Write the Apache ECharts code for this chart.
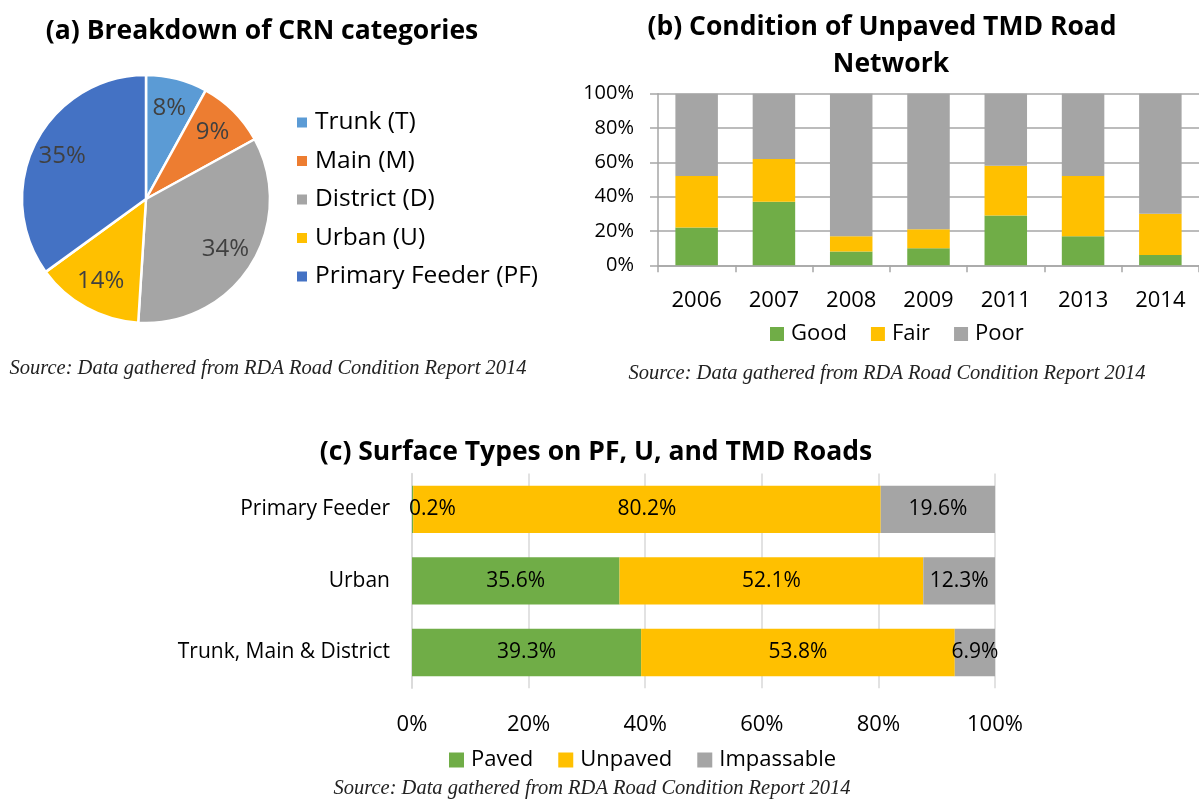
<!DOCTYPE html>
<html>
<head>
<meta charset="utf-8">
<script src="https://cdn.jsdelivr.net/npm/echarts@6/dist/echarts.min.js"></script>
<style>
html,body{margin:0;padding:0;background:#fff;}
#chart{width:1199px;height:801px;}
</style>
</head>
<body>
<div id="chart"></div>
<script>
// ---- Data ----
const pieNames = ['Trunk (T)', 'Main (M)', 'District (D)', 'Urban (U)', 'Primary Feeder (PF)'];
const pieValues = [8, 9, 34, 14, 35];

const years = ['2006', '2007', '2008', '2009', '2011', '2013', '2014'];
const goodVals = [22, 37, 8, 10, 29, 17, 6];
const fairVals = [30, 25, 9, 11, 29, 35, 24];
const poorVals = [48, 38, 83, 79, 42, 48, 70];

const roadCats = ['Primary Feeder', 'Urban', 'Trunk, Main & District'];
const pavedVals = [0.2, 35.6, 39.3];
const unpavedVals = [80.2, 52.1, 53.8];
const impassVals = [19.6, 12.3, 6.9];

const pctTicks = [0, 20, 40, 60, 80, 100];

// ---- Styles ----
const pieColors = ['#5B9BD5', '#ED7D31', '#A5A5A5', '#FFC000', '#4472C4'];
const cGreen = '#70AD47', cYellow = '#FFC000', cGray = '#A5A5A5';
const FONT = '"Open Sans", "Noto Sans", sans-serif';
const SERIF = '"Liberation Serif", "DejaVu Serif", serif';
const SRC = 'Source: Data gathered from RDA Road Condition Report 2014';

const chart = echarts.init(document.getElementById('chart'), null, {renderer: 'canvas'});

function pctLabel(v) { return v + '%'; }

const option = {
  animation: false,
  backgroundColor: '#fff',
  textStyle: {fontFamily: FONT},
  graphic: [
    {type: 'text', x: 262, y: 31, style: {text: '(a) Breakdown of CRN categories', font: 'bold 26.5px ' + FONT, fill: '#000', textAlign: 'center', textVerticalAlign: 'middle'}},
    {type: 'text', x: 882, y: 27, style: {text: '(b) Condition of Unpaved TMD Road', font: 'bold 26.5px ' + FONT, fill: '#000', textAlign: 'center', textVerticalAlign: 'middle'}},
    {type: 'text', x: 891, y: 64, style: {text: 'Network', font: 'bold 26.5px ' + FONT, fill: '#000', textAlign: 'center', textVerticalAlign: 'middle'}},
    {type: 'text', x: 596, y: 452, style: {text: '(c) Surface Types on PF, U, and TMD Roads', font: 'bold 26.5px ' + FONT, fill: '#000', textAlign: 'center', textVerticalAlign: 'middle'}},
    {type: 'text', x: 268, y: 369, style: {text: SRC, font: 'italic 20.5px ' + SERIF, fill: '#222', textAlign: 'center', textVerticalAlign: 'middle'}},
    {type: 'text', x: 887, y: 374, style: {text: SRC, font: 'italic 20.5px ' + SERIF, fill: '#222', textAlign: 'center', textVerticalAlign: 'middle'}},
    {type: 'text', x: 592, y: 789, style: {text: SRC, font: 'italic 20.5px ' + SERIF, fill: '#222', textAlign: 'center', textVerticalAlign: 'middle'}}
  ],
  legend: [
    {
      data: pieNames, orient: 'vertical', left: 290, top: 105,
      itemWidth: 12, itemHeight: 12, itemGap: 13.5, icon: 'rect',
      textStyle: {fontSize: 24.5, color: '#000', fontFamily: FONT, padding: [0, 0, 0, 2]}
    },
    {
      data: ['Good', 'Fair', 'Poor'], orient: 'horizontal', left: 765, top: 318,
      itemWidth: 14, itemHeight: 14, itemGap: 24, icon: 'rect',
      textStyle: {fontSize: 22, color: '#000', fontFamily: FONT, padding: [0, 0, 0, 2]}
    },
    {
      data: ['Paved', 'Unpaved', 'Impassable'], orient: 'horizontal', left: 444, top: 744,
      itemWidth: 15, itemHeight: 15, itemGap: 25, icon: 'rect',
      textStyle: {fontSize: 22, color: '#000', fontFamily: FONT, padding: [0, 0, 0, 2]}
    }
  ],
  grid: [
    {left: 658, right: -7, top: 93.7, bottom: 801 - 265.3, containLabel: false},
    {left: 412, right: 1199 - 995, top: 473.5, bottom: 801 - 688.3, containLabel: false}
  ],
  xAxis: [
    {
      gridIndex: 0, type: 'category', data: years,
      axisLine: {show: true, lineStyle: {color: '#A6A6A6', width: 1.5}},
      axisTick: {show: true, length: 7, lineStyle: {color: '#A6A6A6', width: 1.5}},
      axisLabel: {fontSize: 22, color: '#000', margin: 24, fontFamily: FONT},
      splitLine: {show: false}
    },
    {
      gridIndex: 1, type: 'value', min: 0, max: 100, interval: 20,
      axisLine: {show: false}, axisTick: {show: false},
      axisLabel: {fontSize: 22, color: '#000', margin: 25, fontFamily: FONT, formatter: '{value}%'},
      splitLine: {show: true, lineStyle: {color: '#D9D9D9', width: 1.5}}
    }
  ],
  yAxis: [
    {
      gridIndex: 0, type: 'value', min: 0, max: 100, interval: 20,
      axisLine: {show: true, lineStyle: {color: '#A6A6A6', width: 1.5}},
      axisTick: {show: true, length: 8, lineStyle: {color: '#A6A6A6', width: 1.5}},
      axisLabel: {fontSize: 20, color: '#000', margin: 24, fontFamily: FONT, formatter: '{value}%'},
      splitLine: {show: true, lineStyle: {color: '#A6A6A6', width: 1.5}}
    },
    {
      gridIndex: 1, type: 'category', data: roadCats, inverse: true,
      axisLine: {show: true, lineStyle: {color: '#D9D9D9', width: 1.5}},
      axisTick: {show: false},
      axisLabel: {fontSize: 21, color: '#000', margin: 22, fontFamily: FONT}
    }
  ],
  series: [
    {
      name: 'CRN', type: 'pie', center: [146, 199], radius: 124,
      startAngle: 90, clockwise: true, silent: true,
      data: pieNames.map((n, i) => ({name: n, value: pieValues[i], itemStyle: {color: pieColors[i]}})),
      itemStyle: {borderColor: '#fff', borderWidth: 2.5},
      label: {show: false}, labelLine: {show: false}
    },
    {
      name: 'CRN labels', type: 'pie', center: [146, 199], radius: [58, 124],
      startAngle: 90, clockwise: true, silent: true, z: 5,
      data: pieNames.map((n, i) => ({name: n, value: pieValues[i]})),
      itemStyle: {color: 'rgba(0,0,0,0)', borderWidth: 0},
      label: {show: true, position: 'inside', fontSize: 24, color: '#404040', fontFamily: FONT, formatter: p => pctLabel(p.value)},
      labelLine: {show: false}
    },
    {name: 'Good', type: 'bar', stack: 'b', xAxisIndex: 0, yAxisIndex: 0, data: goodVals, barCategoryGap: '45%', itemStyle: {color: cGreen}, silent: true},
    {name: 'Fair', type: 'bar', stack: 'b', xAxisIndex: 0, yAxisIndex: 0, data: fairVals, barCategoryGap: '45%', itemStyle: {color: cYellow}, silent: true},
    {name: 'Poor', type: 'bar', stack: 'b', xAxisIndex: 0, yAxisIndex: 0, data: poorVals, barCategoryGap: '45%', itemStyle: {color: cGray}, silent: true},
    {
      name: 'Paved', type: 'bar', stack: 'c', xAxisIndex: 1, yAxisIndex: 1, barCategoryGap: '34%', silent: true,
      data: pavedVals.map(v => v < 1 ? {value: v, label: {position: [-3, '50%'], align: 'left', verticalAlign: 'middle'}} : v),
      itemStyle: {color: cGreen},
      label: {show: true, position: 'inside', fontSize: 21, color: '#000', fontFamily: FONT, formatter: p => pctLabel(p.value)}
    },
    {
      name: 'Unpaved', type: 'bar', stack: 'c', xAxisIndex: 1, yAxisIndex: 1, barCategoryGap: '34%', silent: true,
      data: unpavedVals, itemStyle: {color: cYellow},
      label: {show: true, position: 'inside', fontSize: 21, color: '#000', fontFamily: FONT, formatter: p => pctLabel(p.value)}
    },
    {
      name: 'Impassable', type: 'bar', stack: 'c', xAxisIndex: 1, yAxisIndex: 1, barCategoryGap: '34%', silent: true,
      data: impassVals, itemStyle: {color: cGray},
      label: {show: true, position: 'inside', fontSize: 21, color: '#000', fontFamily: FONT, formatter: p => pctLabel(p.value)}
    }
  ]
};
chart.setOption(option);
</script>
</body>
</html>
